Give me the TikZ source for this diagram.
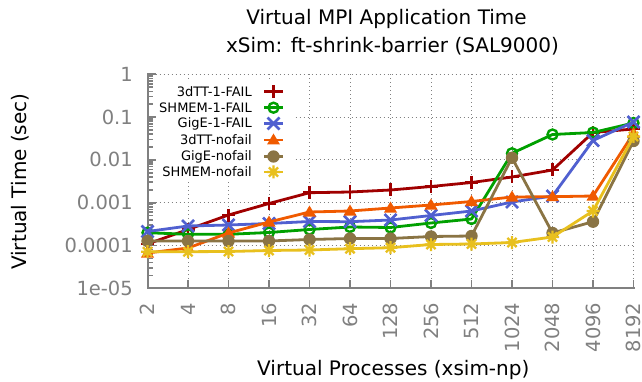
\documentclass[tikz,border=0pt]{standalone}
\usepackage{fontspec}
\setmainfont{DejaVu Sans}
\definecolor{cred}{HTML}{A00000}
\definecolor{cgreen}{HTML}{00A000}
\definecolor{cblue}{HTML}{5060D0}
\definecolor{corange}{HTML}{F05A00}
\definecolor{cbrown}{HTML}{8A7444}
\definecolor{cyellow}{HTML}{E8C01E}
\definecolor{axgray}{HTML}{808080}
\tikzset{
  dataline/.style={line width=2.8pt, line join=round, line cap=round},
  gridline/.style={axgray, line width=0.9pt, dash pattern=on 1pt off 3pt},
  axisline/.style={axgray, line width=2pt},
  tickline/.style={axgray, line width=1.6pt},
  ticklabel/.style={text=axgray, inner sep=0pt, font=\fontsize{19.5}{22}\selectfont},
  axlabel/.style={text=black, inner sep=0pt, font=\fontsize{20}{24}\selectfont},
  legtext/.style={text=black, inner sep=0pt, anchor=east, font=\fontsize{13}{15}\selectfont},
  mplus/.pic={\draw[#1,line width=2.6pt] (-6.5,0)--(6.5,0) (0,-6.5)--(0,6.5);},
  mcirc/.pic={\draw[#1,line width=2.4pt] (0,0) circle[radius=5];},
  mcross/.pic={\draw[#1,line width=2.6pt] (-6,-6)--(6,6) (-6,6)--(6,-6);},
  mtri/.pic={\fill[#1] (-6.5,4.5)--(6.5,4.5)--(0,-6.5)--cycle;},
  mdot/.pic={\fill[#1] (0,0) circle[radius=6.2];},
  mstar/.pic={\draw[#1,line width=2.4pt] (-6.5,0)--(6.5,0) (0,-6.5)--(0,6.5) (-4.6,-4.6)--(4.6,4.6) (-4.6,4.6)--(4.6,-4.6);}
}
\newcommand\dseries[4]{%
  \draw[dataline,#1] (147.5,#3) \foreach \yy [count=\ii] in {#4} {-- ({147.5+40.5*\ii},\yy)};
  \foreach \yy [count=\ii from 0] in {#3,#4} \pic at ({147.5+40.5*\ii},\yy) {#2=#1};
}
\newcommand\legentry[4]{%
  \draw[line width=2.6pt,#1] (264,#3)--(283,#3);
  \pic at (273.5,#3) {#2=#1};
  \node[legtext] (leg#2) at (252,#3) {#4};
}
\begin{document}
\begin{tikzpicture}[x=1pt,y=-1pt]
\useasboundingbox (0,0) rectangle (642,382);
\fill[white] (0,0) rectangle (642,382);
% grid
\foreach \i in {1,...,12} \draw[gridline] ({147.5+40.5*\i},74.3) -- ({147.5+40.5*\i},288.3);
\foreach \k in {0,...,4} \draw[gridline] (147.5,{74.3+42.8*\k}) -- (633.5,{74.3+42.8*\k});
% legend background
\fill[white] (152,81) rectangle (293,181);
% axes
\draw[axisline] (147.5,73.3) -- (147.5,288.3) -- (634.5,288.3);
\foreach \k in {0,...,4} \draw[tickline] (147.5,{74.3+42.8*\k}) -- ++(8,0);
\foreach \d in {0,...,4} \foreach \m in {2,...,9}
  \draw[tickline] (147.5,{74.3+42.8*(\d+1)-42.8*ln(\m)/ln(10)}) -- ++(5,0);
\foreach \i in {1,...,12} \draw[tickline] ({147.5+40.5*\i},288.3) -- ++(0,-8);
% tick labels
\foreach \lab [count=\k from 0] in {1,0.1,0.01,0.001,0.0001,1e-05}
  \node[ticklabel, anchor=east] (yl\k) at (133,{74.3+42.8*\k}) {\lab};
\foreach \lab [count=\i from 0] in {2,4,8,16,32,64,128,256,512,1024,2048,4096,8192}
  \node[ticklabel, anchor=east, rotate=90] (xl\i) at ({147.5+40.5*\i},302.5) {\lab};
% titles and axis labels
\node[axlabel, anchor=base] (title1) at (386.5,25) {Virtual MPI Application Time};
\node[axlabel, anchor=base] (title2) at (392.5,52.5) {xSim: ft-shrink-barrier (SAL9000)};
\node[axlabel, anchor=base, rotate=90] (ylab) at (26,181.7) {Virtual Time (sec)};
\node[axlabel, anchor=base] (xlab) at (393.3,375) {Virtual Processes (xsim-np)};
% data
\dseries{cred}{mplus}{244}{229.5,215,203.5,192.7,192,190,186.5,182.5,177,170,132.5,129}
\dseries{cgreen}{mcirc}{232.7}{234.3,234.3,232.5,229.5,227,227.5,223,219,153.3,134.5,132.5,123}
\dseries{cblue}{mcross}{231.5}{226,225,223.5,221.5,221.7,220,215.5,211,202,196,140.5,122}
\dseries{corange}{mtri}{253}{248,233,222,212,211,208,205,201.5,197,196.7,196,133.3}
\dseries{cbrown}{mdot}{241}{241,241,241,239.5,238.5,238.5,236.5,236,157.8,233,221.7,141}
\dseries{cyellow}{mstar}{251.7}{251.7,251.5,250.5,250,248.7,247.7,244.5,244,242.5,237,211,136.5}
% legend
\legentry{cred}{mplus}{91.7}{3dTT-1-FAIL}
\legentry{cgreen}{mcirc}{107.7}{SHMEM-1-FAIL}
\legentry{cblue}{mcross}{123.5}{GigE-1-FAIL}
\legentry{corange}{mtri}{140}{3dTT-nofail}
\legentry{cbrown}{mdot}{156.5}{GigE-nofail}
\legentry{cyellow}{mstar}{172}{SHMEM-nofail}
\end{tikzpicture}
\end{document}
